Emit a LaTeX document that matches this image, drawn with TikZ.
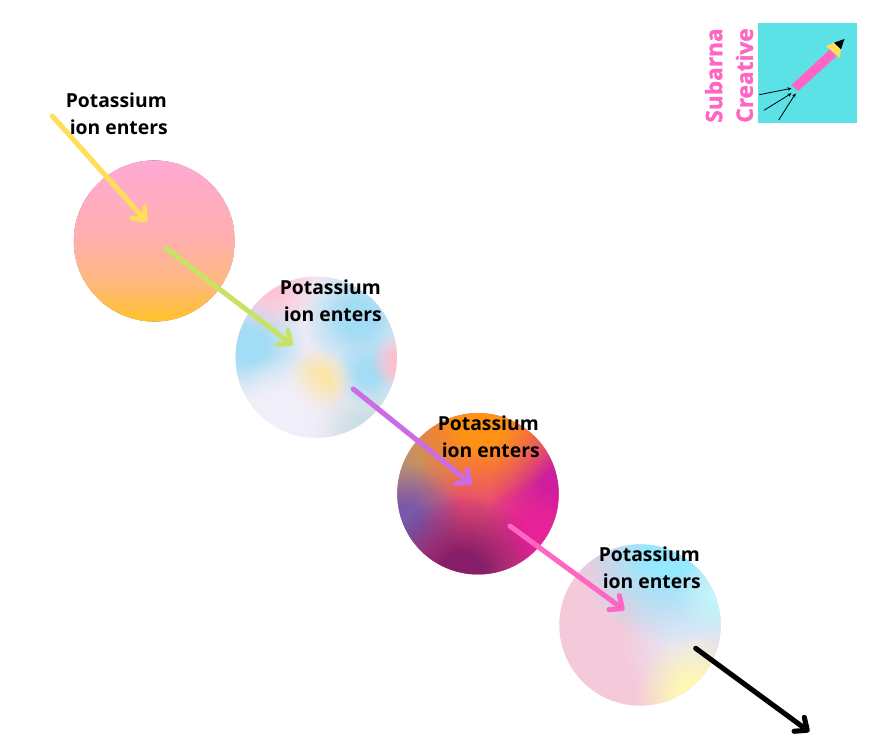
\documentclass[tikz,border=0pt]{standalone}
\usepackage{fontspec}
\setmainfont{Open Sans}
\newfontfamily\logofont[FakeBold=1.6]{Open Sans}
\usetikzlibrary{arrows.meta,fadings}

\definecolor{ionyellow}{HTML}{FFDE59}
\definecolor{iongreen}{HTML}{C9E265}
\definecolor{ionpurple}{HTML}{CB6CE6}
\definecolor{ionpink}{HTML}{FF66C4}
\definecolor{logocyan}{HTML}{5CE1E6}
% first ball
\definecolor{oneA}{HTML}{FFC128}
\definecolor{oneB}{HTML}{FFB880}
\definecolor{oneC}{HTML}{FFB0AC}
\definecolor{oneD}{HTML}{FFA9D5}
% second ball
\definecolor{twobase}{HTML}{ECEAF4}
\definecolor{twoteal}{HTML}{C8DEE2}
\definecolor{twoblue}{HTML}{A2DCF5}
\definecolor{twopink}{HTML}{FFC4D8}
\definecolor{tworose}{HTML}{FFBECD}
\definecolor{twosand}{HTML}{FDE4A5}
\definecolor{twopale}{HTML}{F1EFF9}
% third ball
\definecolor{threebase}{HTML}{E84C74}
\definecolor{threeorange}{HTML}{FF9214}
\definecolor{threetan}{HTML}{BE916E}
\definecolor{threeviolet}{HTML}{CD1EA0}
\definecolor{threemagenta}{HTML}{E82298}
\definecolor{threeslate}{HTML}{785AAA}
\definecolor{threeplum}{HTML}{871E69}
% fourth ball
\definecolor{fourbase}{HTML}{F4CADB}
\definecolor{fourpale}{HTML}{E8E4F4}
\definecolor{foursky}{HTML}{96E8FF}
\definecolor{fourice}{HTML}{C3F5FA}
\definecolor{fourcream}{HTML}{FFF8B4}

\pgfdeclareverticalshading{ballone}{100bp}{color(0bp)=(oneA); color(25bp)=(oneA); color(37.5bp)=(oneB);
  color(50bp)=(oneC); color(75bp)=(oneD); color(100bp)=(oneD)}
\pgfdeclareradialshading{blobshade}{\pgfpointorigin}{color(0bp)=(pgftransparent!0); color(7bp)=(pgftransparent!0);
  color(25bp)=(pgftransparent!100); color(50bp)=(pgftransparent!100)}
\tikzfading[name=blobfade, shading=blobshade]

\tikzset{
  ionarrow/.style={line width=3.8pt, line cap=round, -{Straight Barb[length=7.5pt,width=13pt,round]}},
  ionlabel/.style={anchor=north west, inner sep=0pt, align=left, font=\bfseries\fontsize{14.5}{20.2}\selectfont},
  blob/.style={fill=#1, path fading=blobfade},
  logoarrow/.style={line width=0.6pt, -{Stealth[length=3pt,width=2.6pt]}},
}

\begin{document}
\begin{tikzpicture}[x=0.75pt,y=0.75pt,yscale=-1]
\useasboundingbox (0,0) rectangle (875,734);

% first ball
\begin{scope}
\clip (154.3,241) circle (80.7);
\fill[shading=ballone] (73.6,160.3) rectangle (235,321.7);
\end{scope}
\draw[white, line width=0.9pt] (154.3,241) circle (81.4);

% second ball
\begin{scope}
\clip (316.2,357.2) circle (80.7);
\fill[twobase] (230,270) rectangle (400,440);
\fill[blob=twoteal] (375,435) circle (60);
\fill[blob=twoblue] (250,345) circle (55);
\fill[blob=twoblue] (358,318) circle (55);
\fill[blob=twoblue] (368,372) circle (35);
\fill[blob=twopink] (270,282) circle (50);
\fill[blob=tworose] (400,362) circle (30);
\fill[blob=twosand] (319,380) circle (32);
\fill[blob=twopale] (280,415) circle (60);
\end{scope}

% third ball
\begin{scope}
\clip (478,493.8) circle (80.7);
\fill[threebase] (390,405) rectangle (565,580);
\fill[blob=threetan] (400,460) circle (70);
\fill[blob=threeviolet] (560,490) circle (70);
\fill[blob=threemagenta] (535,535) circle (55);
\fill[blob=threeslate] (403,522) circle (60);
\fill[blob=threeplum] (462,575) circle (80);
\fill[blob=threeorange] (480,420) circle (85);
\end{scope}

% fourth ball
\begin{scope}
\clip (640,625) circle (80.7);
\fill[fourbase] (555,540) rectangle (725,710);
\fill[blob=fourpale] (690,640) circle (70);
\fill[blob=foursky] (670,550) circle (95);
\fill[blob=fourice] (725,595) circle (50);
\fill[blob=fourcream] (695,695) circle (60);
\end{scope}

% ends of the arrows
\coordinate (yellowstart) at (52.3,116);
\coordinate (yellowend) at (146.7,221.7);
\coordinate (greenstart) at (166,248.3);
\coordinate (greenend) at (292.7,345);
\coordinate (purplestart) at (353.3,389);
\coordinate (purpleend) at (471.7,484.3);
\coordinate (pinkstart) at (510,526);
\coordinate (pinkend) at (624.3,610);
\coordinate (blackstart) at (695.7,648.3);
\coordinate (blackend) at (809.3,731.7);

\draw[ionarrow, color=ionyellow] (yellowstart) -- (yellowend);
\draw[ionarrow, color=iongreen] (greenstart) -- (greenend);
\draw[ionarrow, color=ionpurple] (purplestart) -- (purpleend);
\draw[ionarrow, color=ionpink] (pinkstart) -- (pinkend);
\draw[ionarrow, color=black] (blackstart) -- (blackend);

\node (labelone) [ionlabel] at (65.5,93) {Potassium\\\hspace*{3pt}ion enters};
\node (labeltwo) [ionlabel] at (279.5,280) {Potassium\\\hspace*{3pt}ion enters};
\node (labelthree) [ionlabel] at (437.5,416) {Potassium\\\hspace*{3pt}ion enters};
\node (labelfour) [ionlabel] at (598.5,547) {Potassium\\\hspace*{3pt}ion enters};

% logo
\fill[logocyan] (757.7,23.5) rectangle (857,123.5);
\fill[ionpink] (791.5,85) -- (830,49.3) -- (836.7,56) -- (798.3,91) -- cycle;
\fill[ionyellow] (826,46) -- (834,42.7) -- (841,49.3) -- (839.7,58) -- cycle;
\fill[black] (834,42.7) -- (844.5,39) -- (841,49.3) -- cycle;
\coordinate (logoa) at (759.3,94.7);
\coordinate (logoaend) at (791.5,88.3);
\coordinate (logob) at (764,110.3);
\coordinate (logobend) at (791.5,93.3);
\coordinate (logoc) at (778.7,120);
\coordinate (logocend) at (795.7,93.3);
\draw[logoarrow] (logoa) -- (logoaend);
\draw[logoarrow] (logob) -- (logobend);
\draw[logoarrow] (logoc) -- (logocend);
\node (logotext) [rotate=90, anchor=center, inner sep=0pt, align=center, text=ionpink, font=\logofont\bfseries\fontsize{17}{23}\selectfont] at (729,75.5) {Subarna\\Creative};
\end{tikzpicture}
\end{document}
